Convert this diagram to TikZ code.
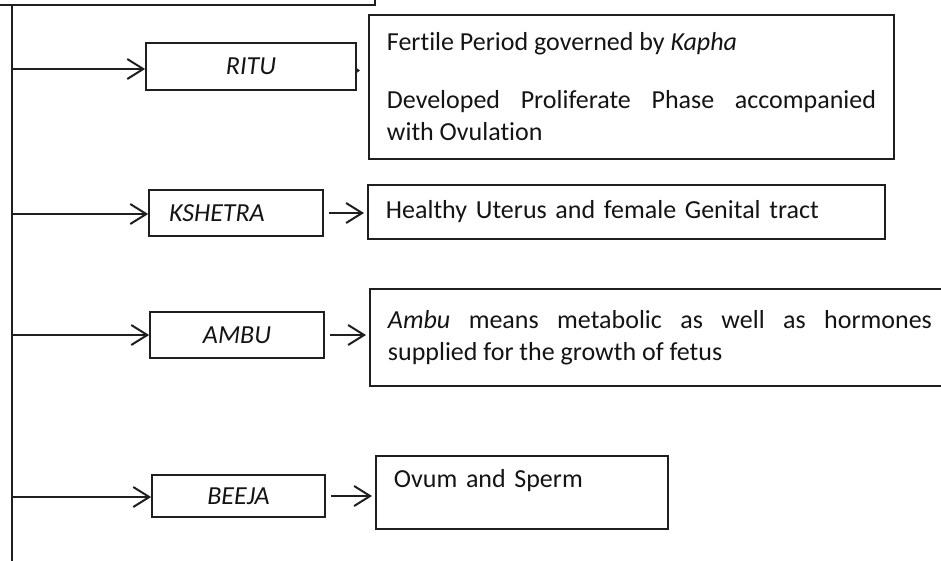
\documentclass[tikz,border=0pt]{standalone}
\usepackage{fontspec}
\setmainfont{Carlito}[Ligatures=NoCommon]
\usetikzlibrary{arrows.meta}
\hbadness=10000
\begin{document}
\begin{tikzpicture}[x=1pt, y=-1pt,
  every node/.style={font=\fontsize{26}{32}\selectfont, text=black!92},
  lbl/.style={draw=black!88, line width=1.7pt, minimum width=174pt, minimum height=46pt, inner sep=0pt, font=\fontsize{26}{32}\selectfont\itshape},
  txt/.style={draw=black!88, line width=1.9pt, anchor=north west, align=justify, inner xsep=18pt, inner ysep=0pt},
  arr/.style={draw=black!88, line width=1.7pt, -{Straight Barb[length=16pt,width=20pt,line width=2pt]}}
]
\useasboundingbox (0,0) rectangle (941,560);
\clip (0,0) rectangle (941,560);
% heading box, cut off at the top
\node[draw=black!88, line width=1.7pt, anchor=south east, minimum width=450pt, minimum height=40pt] (top) at (376,6) {};
% trunk
\coordinate (trunkTop) at (12,6);
\coordinate (trunkEnd) at (12,566);
\draw[draw=black!88, line width=1.7pt] (trunkTop) -- (trunkEnd);
\coordinate (bRitu) at (12,69);
\coordinate (bKshetra) at (12,214);
\coordinate (bAmbu) at (12,335);
\coordinate (bBeeja) at (12,497);
% factors
\node[lbl, minimum width=210pt, minimum height=47pt] (ritu) at (251,66.5) {RITU};
\node[lbl, text width=134pt, inner xsep=20pt, align=left] (kshetra) at (236,213) {KSHETRA};
\node[lbl] (ambu) at (237,335) {AMBU};
\node[lbl, minimum width=173pt, minimum height=42pt] (beeja) at (238.5,496) {BEEJA};
% meanings
\node[txt, text width=489pt, minimum height=144pt] (rituTxt) at (368,14)
  {Fertile Period governed by \emph{Kapha}\par\vspace{26pt}Developed Proliferate Phase accompanied\linebreak with Ovulation};
\node[txt, text width=481pt, minimum height=54pt, align=left] (kshetraTxt) at (367,184)
  {Healthy Uterus and female Genital tract};
\node[txt, text width=544pt, minimum height=97pt] (ambuTxt) at (369,288)
  {\emph{Ambu} means metabolic as well as hormones\linebreak supplied for the growth of fetus};
\node[txt, text width=256pt, align=left, text height=19pt, text depth=28pt, inner ysep=13pt] (beejaTxt) at (375,455)
  {Ovum and Sperm};
% branches
\draw[arr] (bRitu) -- (bRitu -| ritu.west);
\draw[arr] (bKshetra) -- (bKshetra -| kshetra.west);
\draw[arr] (bAmbu) -- (bAmbu -| ambu.west);
\draw[arr] (bBeeja) -- (bBeeja -| beeja.west);
\draw[draw=black!88, line width=1pt, -{Triangle[length=4pt,width=6pt]}] ([yshift=-4pt]ritu.east) -- ++(3,0);
\draw[arr, shorten <=5pt, shorten >=3pt] (kshetra.east) -- (kshetra.east -| kshetraTxt.west);
\draw[arr, shorten <=5pt, shorten >=3pt] (ambu.east) -- (ambu.east -| ambuTxt.west);
\draw[arr, shorten <=5pt, shorten >=3pt] (beeja.east) -- (beeja.east -| beejaTxt.west);
\end{tikzpicture}
\end{document}
